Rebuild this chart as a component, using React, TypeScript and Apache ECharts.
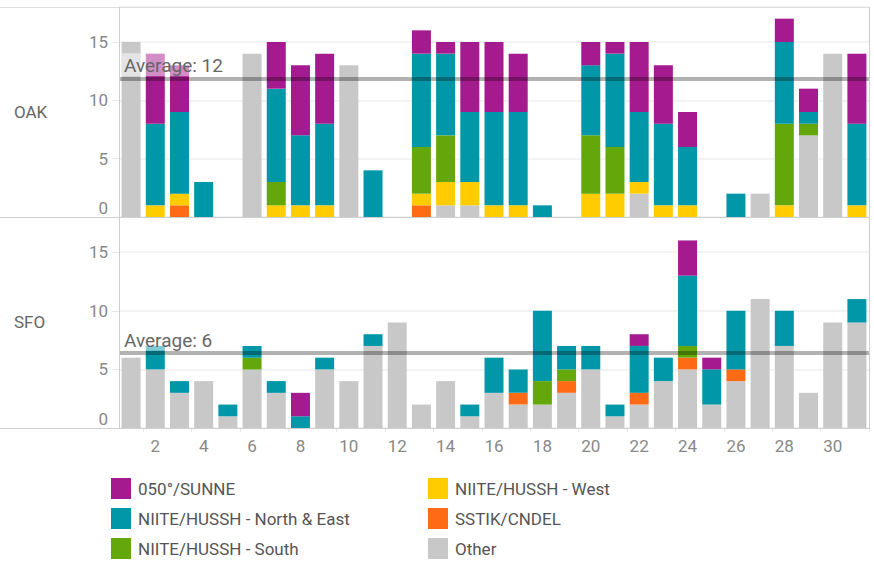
import React, { useEffect, useRef } from "react";
import * as echarts from "echarts";

const days = Array.from({ length: 31 }, (_, i) => String(i + 1));

const seriesNames = [
  "Other",
  "SSTIK/CNDEL",
  "NIITE/HUSSH - West",
  "NIITE/HUSSH - South",
  "NIITE/HUSSH - North & East",
  "050°/SUNNE",
];
const seriesColors = ["#C8C8C8", "#FF6B15", "#FFCC00", "#64A70B", "#0097A8", "#A51A8E"];

// OAK
const oakOther = [15,0,0,0,0,14,0,0,0,13,0,0,0,1,1,0,0,0,0,0,0,2,0,0,0,0,2,0,7,14,0];
const oakSstik = [0,0,1,0,0,0,0,0,0,0,0,0,1,0,0,0,0,0,0,0,0,0,0,0,0,0,0,0,0,0,0];
const oakWest = [0,1,1,0,0,0,1,1,1,0,0,0,1,2,2,1,1,0,0,2,2,1,1,1,0,0,0,1,0,0,1];
const oakSouth = [0,0,0,0,0,0,2,0,0,0,0,0,4,4,0,0,0,0,0,5,4,0,0,0,0,0,0,7,1,0,0];
const oakNE = [0,7,7,3,0,0,8,6,7,0,4,0,8,7,6,8,8,1,0,6,8,6,7,5,0,2,0,7,1,0,7];
const oakSunne = [0,6,4,0,0,0,4,6,6,0,0,0,2,1,6,6,5,0,0,2,1,6,5,3,0,0,0,2,2,0,6];

// SFO
const sfoOther = [6,5,3,4,1,5,3,0,5,4,7,9,2,4,1,3,2,2,3,5,1,2,4,5,2,4,11,7,3,9,9];
const sfoSstik = [0,0,0,0,0,0,0,0,0,0,0,0,0,0,0,0,1,0,1,0,0,1,0,1,0,1,0,0,0,0,0];
const sfoWest = [0,0,0,0,0,0,0,0,0,0,0,0,0,0,0,0,0,0,0,0,0,0,0,0,0,0,0,0,0,0,0];
const sfoSouth = [0,0,0,0,0,1,0,0,0,0,0,0,0,0,0,0,0,2,1,0,0,0,0,1,0,0,0,0,0,0,0];
const sfoNE = [0,2,1,0,1,1,1,1,1,0,1,0,0,0,1,3,2,6,2,2,1,4,2,6,3,5,0,3,0,0,2];
const sfoSunne = [0,0,0,0,0,0,0,2,0,0,0,0,0,0,0,0,0,0,0,0,0,1,0,3,1,0,0,0,0,0,0];

const yTicks = [0, 5, 10, 15];
const panelLabels = ["OAK", "SFO"];

const FONT = "Roboto, 'Noto Sans', sans-serif";

function avgOfActiveDays(groups: number[][]): number {
  const totals = days.map((_, i) => groups.reduce((s, g) => s + g[i], 0));
  const active = totals.filter((t) => t > 0);
  return active.reduce((s, t) => s + t, 0) / active.length;
}

export default function App() {
  const ref = useRef<HTMLDivElement>(null);
  useEffect(() => {
    if (!ref.current) return;
    const chart = echarts.init(ref.current, undefined, { renderer: "svg" });
    const panels = [
      [oakOther, oakSstik, oakWest, oakSouth, oakNE, oakSunne],
      [sfoOther, sfoSstik, sfoWest, sfoSouth, sfoNE, sfoSunne],
    ];
    const series: any[] = [];
    panels.forEach((groups, p) => {
      const avg = avgOfActiveDays(groups);
      groups.forEach((vals, k) => {
        const s: any = {
          type: "bar",
          name: seriesNames[k],
          xAxisIndex: p,
          yAxisIndex: p,
          stack: "s" + p,
          barWidth: 19,
          itemStyle: { color: seriesColors[k] },
          data: vals.map((v) => (v === 0 ? null : v)),
        };
        if (k === groups.length - 1) {
          s.markLine = {
            silent: true,
            symbol: "none",
            animation: false,
            lineStyle: { color: "rgba(0,0,0,0.3)", width: 4, type: "solid" },
            label: {
              show: true,
              position: "insideStartTop",
              formatter: "Average: " + Math.round(avg),
              color: "#666",
              fontSize: 19,
              fontFamily: FONT,
              backgroundColor: "rgba(255,255,255,0.5)",
              padding: [3, 6, 1, 2],
              distance: [3, 2],
            },
            data: [{ yAxis: avg }],
          };
        }
        series.push(s);
      });
    });

    const yAxisBase = (gi: number) => ({
      type: "value",
      gridIndex: gi,
      min: 0,
      max: 18,
      interval: 5,
      axisLine: { show: false },
      axisTick: { show: true, length: 7, lineStyle: { color: "#e8e8e8" } },
      splitLine: { show: true, lineStyle: { color: "#f3f3f3", width: 2 } },
      axisLabel: {
        color: "#888",
        fontSize: 17,
        fontFamily: FONT,
        margin: 11,
        formatter: (v: number) =>
          yTicks.includes(v) ? (v === 0 ? "{z|0}" : String(v)) : "",
        rich: { z: { padding: [0, 0, 18, 0], fontSize: 17, color: "#888", fontFamily: FONT } },
      },
    });

    const legendBase = {
      orient: "vertical",
      top: 478,
      height: 90,
      padding: 0,
      itemWidth: 20,
      itemHeight: 21,
      itemGap: 9,
      icon: "rect",
      selectedMode: false,
      textStyle: { color: "#555", fontSize: 17, fontFamily: FONT, padding: [0, 0, 0, 2] },
    };

    const lineColor = "#cfcfcf";
    chart.setOption({
      animation: false,
      textStyle: { fontFamily: FONT },
      grid: [
        { left: 119, right: 5, top: 7, height: 210 },
        { left: 119, right: 5, top: 217, height: 211 },
      ],
      xAxis: [
        { type: "category", gridIndex: 0, data: days, show: false },
        {
          type: "category",
          gridIndex: 1,
          data: days,
          axisLine: { show: false },
          axisTick: {
            show: true,
            length: 4,
            interval: (i: number) => i % 2 === 1,
            lineStyle: { color: "#e6e6e6" },
          },
          axisLabel: {
            interval: (i: number) => i % 2 === 1,
            color: "#888",
            fontSize: 17,
            fontFamily: FONT,
            margin: 9,
          },
        },
      ],
      yAxis: [yAxisBase(0), yAxisBase(1)],
      legend: [
        {
          ...legendBase,
          data: seriesNames.slice(3).reverse(),
          left: 111,
          width: 300,
        },
        {
          ...legendBase,
          data: [seriesNames[2], seriesNames[1], seriesNames[0]],
          left: 428,
          width: 300,
        },
      ],
      graphic: [
        { type: "line", shape: { x1: 0, y1: 7.5, x2: 869, y2: 7.5 }, style: { stroke: "#dedede", lineWidth: 1 }, z: 10 },
        { type: "line", shape: { x1: 0, y1: 217.5, x2: 869, y2: 217.5 }, style: { stroke: lineColor, lineWidth: 1 }, z: 10 },
        { type: "line", shape: { x1: 0, y1: 428.5, x2: 869, y2: 428.5 }, style: { stroke: lineColor, lineWidth: 1 }, z: 10 },
        { type: "line", shape: { x1: 119.5, y1: 7, x2: 119.5, y2: 429 }, style: { stroke: lineColor, lineWidth: 1 }, z: 10 },
        { type: "line", shape: { x1: 869.5, y1: 7, x2: 869.5, y2: 429 }, style: { stroke: lineColor, lineWidth: 1 }, z: 10 },
        {
          type: "text",
          left: 14,
          top: 103,
          style: { text: panelLabels[0], fill: "#666", fontSize: 17, fontFamily: FONT },
        },
        {
          type: "text",
          left: 14,
          top: 313,
          style: { text: panelLabels[1], fill: "#666", fontSize: 17, fontFamily: FONT },
        },
      ],
      series,
    });
    return () => chart.dispose();
  }, []);
  return <div ref={ref} style={{ width: 874, height: 564, position: "absolute", left: 0, top: 0 }} />;
}
